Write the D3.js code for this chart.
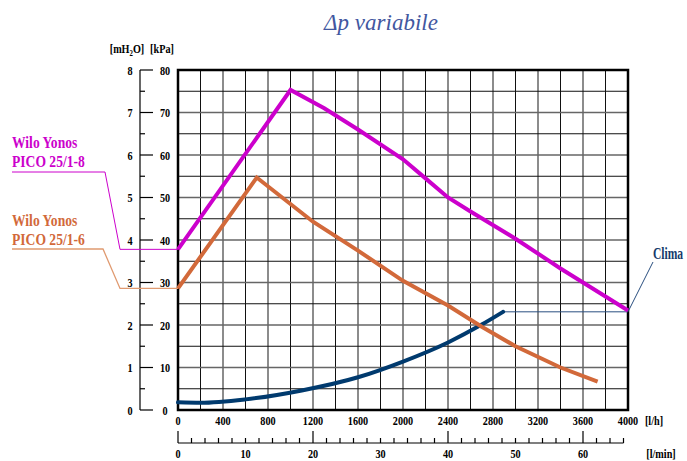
<!DOCTYPE html>
<html><head><meta charset="utf-8">
<script src="https://cdn.jsdelivr.net/npm/d3@7"></script>
<style>body{margin:0;background:#fff}svg{display:block}</style>
</head><body>
<svg id="c" width="687" height="461"></svg>
<script>
// ---- data ----
const flowTicksLh = [0,400,800,1200,1600,2000,2400,2800,3200,3600,4000];
const flowTicksLmin = [0,10,20,30,40,50,60];
const kpaTicks = [0,10,20,30,40,50,60,70,80];
const mh2oTicks = [0,1,2,3,4,5,6,7,8];
const pico8Flow = [0,1000,1300,1600,2000,2200,2400,2600,3000,3400,4000];
const pico8Kpa  = [37.8,75.3,71,66,59,54.5,50,46.7,40.3,33.3,23.4];
const pico6Flow = [0,700,1200,1600,2000,2400,2700,3000,3400,3730];
const pico6Kpa  = [28.6,54.7,44.3,37.5,30.4,24.6,19.6,15,10,6.7];
const climaFlow = [0,200,600,1100,1600,2000,2400,2700,2890];
const climaKpa  = [1.8,1.7,2.5,4.6,7.7,11.4,15.9,20.1,23.1];
const seriesNames = ["Wilo Yonos","PICO 25/1-8","PICO 25/1-6","Clima"];

// ---- layout ----
const svg = d3.select("#c");
const L=178,R=628,T=70,B=410;
const x = d3.scaleLinear().domain([0,4000]).range([L,R]);
const xm = d3.scaleLinear().domain([0,4000/60]).range([L,R]);
const y = d3.scaleLinear().domain([0,80]).range([B,T]);
const ym = d3.scaleLinear().domain([0,8]).range([B,T]);
const FONT = "Liberation Serif, Times New Roman, serif";

function ctext(g, tx, ty, str, opts={}){
  const t = g.append("text")
    .attr("transform",`translate(${tx},${ty}) scale(${opts.sx||0.85},1)`)
    .attr("font-family",FONT).attr("font-weight",opts.w||"bold")
    .attr("font-size",opts.size||12).attr("fill",opts.fill||"#000")
    .attr("text-anchor",opts.anchor||"middle");
  if(opts.html) t.html(str); else t.text(str);
  return t;
}

// title
svg.append("text").attr("x",381).attr("y",30).attr("text-anchor","middle")
  .attr("font-family",FONT).attr("font-style","italic").attr("font-size",23)
  .attr("fill","#42579f").text("Δp variabile");

// grid
const grid = svg.append("g");
d3.range(200,4000,200).forEach(v=>{
  grid.append("line").attr("x1",x(v)).attr("x2",x(v)).attr("y1",T).attr("y2",B)
    .attr("stroke",(v/200)%2? "#111":"#666").attr("stroke-width",(v/200)%2?1:1.5);
});
d3.range(5,80,5).forEach(v=>{
  grid.append("line").attr("y1",y(v)).attr("y2",y(v)).attr("x1",L).attr("x2",R)
    .attr("stroke",(v/5)%2? "#111":"#666").attr("stroke-width",(v/5)%2?1:1.5);
});
svg.append("rect").attr("x",L).attr("y",T).attr("width",R-L).attr("height",B-T)
  .attr("fill","none").attr("stroke","#000").attr("stroke-width",2.5);

// left mH2O axis
const ax = svg.append("g");
ax.append("line").attr("x1",140).attr("x2",140).attr("y1",ym(8)).attr("y2",ym(0)).attr("stroke","#000").attr("stroke-width",1.2);
d3.range(0,8.01,0.5).forEach(v=>{
  const major = Number.isInteger(v);
  ax.append("line").attr("x1",140).attr("x2",major?153:145).attr("y1",ym(v)).attr("y2",ym(v))
    .attr("stroke","#000").attr("stroke-width",1.2);
});
mh2oTicks.forEach(v=>ctext(ax,130,ym(v)+4.5,v,{anchor:"middle",size:12}));
kpaTicks.forEach(v=>ctext(ax,165,ym(v/10)+4.5,v,{anchor:"middle",size:12}));
ctext(ax,127,53,"[mH<tspan dy='3' font-size='8'>2</tspan><tspan dy='-3'>O]</tspan>",{html:true,size:12});
ctext(ax,162,53,"[kPa]",{size:12});

// bottom l/h labels
flowTicksLh.forEach(v=>ctext(ax,x(v),425,v,{size:12}));
ctext(ax,654,425,"[l/h]",{size:12});

// l/min axis
const ay=443;
ax.append("line").attr("x1",xm(0)).attr("x2",xm(66)).attr("y1",ay).attr("y2",ay).attr("stroke","#000").attr("stroke-width",1.2);
d3.range(0,66.1,2).forEach(v=>{
  const major = v%20===0;
  ax.append("line").attr("x1",xm(v)).attr("x2",xm(v)).attr("y1",ay).attr("y2",major?431:438)
    .attr("stroke","#000").attr("stroke-width",1.2);
});
flowTicksLmin.forEach(v=>ctext(ax,xm(v),458,v,{size:12}));
ctext(ax,661,458,"[l/min]",{size:12});

// curves
const line = d3.line().x(d=>x(d[0])).y(d=>y(d[1]));
const lineSmooth = d3.line().x(d=>x(d[0])).y(d=>y(d[1])).curve(d3.curveMonotoneX);
const p8 = pico8Flow.map((f,i)=>[f,pico8Kpa[i]]);
const p6 = pico6Flow.map((f,i)=>[f,pico6Kpa[i]]);
const cl = climaFlow.map((f,i)=>[f,climaKpa[i]]);

// leader lines
svg.append("path").attr("d",`M12,172 L105,172 L120,${y(pico8Kpa[0])} L${L},${y(pico8Kpa[0])}`)
  .attr("fill","none").attr("stroke","#cc00cc").attr("stroke-width",1);
svg.append("path").attr("d",`M12,249 L103,249 L120,${y(pico6Kpa[0])} L${L},${y(pico6Kpa[0])}`)
  .attr("fill","none").attr("stroke","#e09a70").attr("stroke-width",1.3);
const cEnd = cl[cl.length-1];
svg.append("path").attr("d",`M${x(cEnd[0])},${y(cEnd[1])} L${R},${y(cEnd[1])} L653,262`)
  .attr("fill","none").attr("stroke","#2a4f80").attr("stroke-width",1);

svg.append("path").attr("d",lineSmooth(cl)).attr("fill","none").attr("stroke","#003a6e").attr("stroke-width",4).attr("stroke-linecap","round");
svg.append("path").attr("d",line(p6)).attr("fill","none").attr("stroke","#d2693a").attr("stroke-width",4).attr("stroke-linejoin","miter");
svg.append("path").attr("d",line(p8)).attr("fill","none").attr("stroke","#cc00cc").attr("stroke-width",4).attr("stroke-linejoin","miter");

// legend labels
ctext(svg,12,148,seriesNames[0],{anchor:"start",size:17,sx:0.8,fill:"#cc00cc"});
ctext(svg,12,167,seriesNames[1],{anchor:"start",size:17,sx:0.8,fill:"#cc00cc"});
ctext(svg,12,226,seriesNames[0],{anchor:"start",size:17,sx:0.8,fill:"#d2693a"});
ctext(svg,12,245,seriesNames[2],{anchor:"start",size:17,sx:0.8,fill:"#d2693a"});
ctext(svg,653,259,seriesNames[3],{anchor:"start",size:17,sx:0.68,fill:"#143a6a"});
</script>
</body></html>
